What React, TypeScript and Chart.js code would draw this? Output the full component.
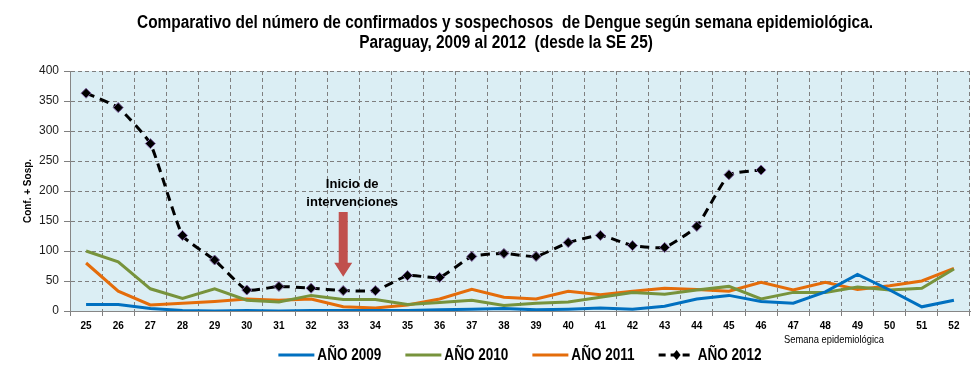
import React, { useEffect, useRef } from "react";
import { Chart, registerables } from "chart.js";

Chart.register(...registerables);

const weeks = ["25","26","27","28","29","30","31","32","33","34","35","36","37","38","39","40","41","42","43","44","45","46","47","48","49","50","51","52"];

const y2009 = [11, 11, 4, 1, 0, 1, 0, 1, 1, 1, 1, 2, 3, 4, 2, 3, 5, 3, 8, 20, 26, 16, 13, 32, 61, 35, 7, 18];
const y2010 = [100, 82, 37, 21, 37, 18, 15, 26, 19, 19, 11, 14, 18, 9, 13, 15, 23, 31, 28, 35, 41, 20, 31, 31, 40, 35, 38, 70];
const y2011 = [80, 33, 10, 13, 16, 20, 18, 20, 7, 5, 10, 20, 36, 23, 20, 33, 27, 33, 38, 36, 33, 48, 35, 48, 36, 42, 50, 71];
const y2012 = [363, 339, 279, 126, 85, 35, 41, 38, 34, 34, 59, 56, 91, 96, 91, 114, 126, 109, 106, 141, 227, 235];

const yTicks = [0, 50, 100, 150, 200, 250, 300, 350, 400];

const titleLines = [
  "Comparativo del número de confirmados y sospechosos  de Dengue según semana epidemiológica.",
  "Paraguay, 2009 al 2012  (desde la SE 25)",
];
const noteLines = ["Inicio de", "intervenciones"];
const noteWeek = "33";
const arrowFrom = 165;
const arrowTo = 57;
const yTitle = "Conf. + Sosp.";
const xTitle = "Semana epidemiológica";

const C2009 = "#0070C0";
const C2010 = "#77933C";
const C2011 = "#E46C0A";
const C2012 = "#000000";
const SANS = '"Liberation Sans", Arial, sans-serif';

// draws text squeezed horizontally by factor k (narrow-face look)
function narrowText(ctx: CanvasRenderingContext2D, text: string, x: number, y: number, k: number, align: "left" | "center") {
  ctx.save();
  ctx.translate(x, y);
  ctx.scale(k, 1);
  ctx.textAlign = align;
  ctx.fillText(text, 0, 0);
  ctx.restore();
}

const decor = {
  id: "decor",
  beforeDraw(chart: any) {
    const { ctx, chartArea: a } = chart;
    ctx.save();
    ctx.fillStyle = "#DBEEF4";
    ctx.fillRect(a.left, a.top, a.right - a.left, a.bottom - a.top);
    ctx.restore();
  },
  afterDraw(chart: any) {
    const { ctx, chartArea: a, scales } = chart;
    const xs = scales.x;
    const ys = scales.y;
    ctx.save();

    // title
    ctx.fillStyle = "#000";
    ctx.textBaseline = "alphabetic";
    ctx.font = `bold 18px ${SANS}`;
    const k = 736 / ctx.measureText(titleLines[0]).width;
    narrowText(ctx, titleLines[0], 505, 28, k, "center");
    narrowText(ctx, titleLines[1], 506, 48, k, "center");

    // y axis title
    ctx.textBaseline = "middle";
    ctx.save();
    ctx.translate(28, (a.top + a.bottom) / 2);
    ctx.rotate(-Math.PI / 2);
    ctx.textAlign = "center";
    ctx.font = `bold 10px ${SANS}`;
    ctx.fillText(yTitle, 0, 0);
    ctx.restore();

    // x axis title
    ctx.font = `11px ${SANS}`;
    narrowText(ctx, xTitle, 834, 340, 0.85, "center");

    // intervention note + arrow
    const ix = xs.getPixelForValue(weeks.indexOf(noteWeek));
    ctx.font = `bold 13px ${SANS}`;
    ctx.fillStyle = "#000";
    ctx.textAlign = "center";
    ctx.fillText(noteLines[0], ix + 9, 184);
    ctx.fillText(noteLines[1], ix + 9, 202);
    const yTop = ys.getPixelForValue(arrowFrom);
    const yTip = ys.getPixelForValue(arrowTo);
    const headH = 14;
    ctx.fillStyle = "#C0504D";
    ctx.beginPath();
    ctx.moveTo(ix - 4.5, yTop);
    ctx.lineTo(ix + 4.5, yTop);
    ctx.lineTo(ix + 4.5, yTip - headH);
    ctx.lineTo(ix + 9, yTip - headH);
    ctx.lineTo(ix, yTip);
    ctx.lineTo(ix - 9, yTip - headH);
    ctx.lineTo(ix - 4.5, yTip - headH);
    ctx.closePath();
    ctx.fill();

    // legend
    const items = chart.data.datasets;
    ctx.font = `bold 16px ${SANS}`;
    const kl = 64 / ctx.measureText(items[0].label).width;
    const lineW = 36;
    const gap = 3;
    const between = 24;
    const widths = items.map((d: any) => lineW + gap + ctx.measureText(d.label).width * kl);
    const total = widths.reduce((s: number, w: number) => s + w, 0) + between * (items.length - 1);
    let x = (a.left + a.right) / 2 - total / 2;
    const ly = 355;
    items.forEach((d: any, i: number) => {
      ctx.save();
      ctx.strokeStyle = d.borderColor;
      ctx.lineWidth = 3;
      if (d.borderDash) ctx.setLineDash([7, 5]);
      ctx.beginPath();
      ctx.moveTo(x, ly);
      ctx.lineTo(x + lineW, ly);
      ctx.stroke();
      if (d.pointRadius) {
        const cx = x + lineW / 2;
        ctx.setLineDash([]);
        ctx.fillStyle = "#000";
        ctx.beginPath();
        ctx.moveTo(cx, ly - 5);
        ctx.lineTo(cx + 4, ly);
        ctx.lineTo(cx, ly + 5);
        ctx.lineTo(cx - 4, ly);
        ctx.closePath();
        ctx.fill();
      }
      ctx.restore();
      ctx.fillStyle = "#000";
      ctx.textBaseline = "middle";
      narrowText(ctx, d.label, x + lineW + gap, ly + 1, kl, "left");
      x += widths[i] + between;
    });
    ctx.restore();
  },
};

export default function App() {
  const ref = useRef<HTMLCanvasElement>(null);
  useEffect(() => {
    document.body.style.margin = "0";
    const chart = new Chart(ref.current!, {
      type: "line",
      data: {
        labels: weeks,
        datasets: [
          { label: "AÑO 2009", data: y2009, borderColor: C2009, backgroundColor: C2009, borderWidth: 3, pointRadius: 0, tension: 0 },
          { label: "AÑO 2010", data: y2010, borderColor: C2010, backgroundColor: C2010, borderWidth: 3, pointRadius: 0, tension: 0 },
          { label: "AÑO 2011", data: y2011, borderColor: C2011, backgroundColor: C2011, borderWidth: 3, pointRadius: 0, tension: 0 },
          {
            label: "AÑO 2012", data: y2012, borderColor: C2012, backgroundColor: "#000", borderWidth: 3,
            borderDash: [9, 6], pointStyle: "rectRot", pointRadius: 5, pointBorderColor: "#8064A2",
            pointBorderWidth: 1, pointBackgroundColor: "#000", tension: 0.15,
          },
        ],
      },
      options: {
        responsive: false,
        animation: false,
        layout: { padding: { top: 71, right: 10, bottom: 33, left: 0 } },
        plugins: { legend: { display: false }, title: { display: false }, tooltip: { enabled: false } },
        scales: {
          x: {
            offset: true,
            afterFit: (s: any) => { s.height = 25; },
            grid: { offset: true, color: "#7F7F7F", lineWidth: 1, tickLength: 5, drawTicks: true },
            border: { display: true, color: "#868686", width: 1, dash: [4, 3] },
            ticks: { color: "#000", font: { family: SANS, size: 10, weight: "bold" }, padding: 4, maxRotation: 0, autoSkip: false },
          },
          y: {
            min: 0, max: 400,
            afterFit: (s: any) => { s.width = 70; },
            afterBuildTicks: (s: any) => { s.ticks = yTicks.map((v) => ({ value: v })); },
            grid: { color: "#7F7F7F", lineWidth: 1, tickLength: 6 },
            border: { display: true, color: "#868686", width: 1, dash: [4, 3] },
            ticks: { color: "#1a1a1a", font: { family: SANS, size: 12 }, padding: 5 },
          },
        },
      },
      plugins: [decor],
    });
    return () => chart.destroy();
  }, []);
  return (
    <div style={{ width: 980, height: 369 }}>
      <canvas ref={ref} width={980} height={369} />
    </div>
  );
}
